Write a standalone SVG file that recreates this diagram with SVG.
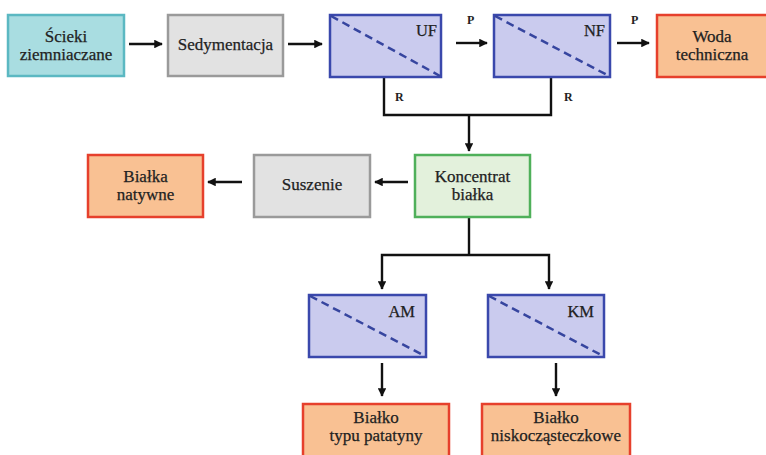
<svg xmlns="http://www.w3.org/2000/svg" width="766" height="455" viewBox="0 0 766 455" font-family="'Liberation Serif', 'DejaVu Serif', serif">
  <defs>
    <marker id="arrow" viewBox="0 0 10 10" refX="9" refY="5" markerWidth="3.6" markerHeight="3.6" orient="auto" markerUnits="strokeWidth">
      <path d="M0,0 L10,5 L0,10 z" fill="#111"/>
    </marker>
  </defs>
  <style>
    text { font-family: 'Liberation Serif', 'DejaVu Serif', serif; fill: #222; }
    .lbl { font-size: 17px; text-anchor: middle; stroke: #222; stroke-width: 0.25; }
    .tag { font-size: 16.5px; text-anchor: end; stroke: #222; stroke-width: 0.25; }
    .pr { font-size: 12px; font-weight: bold; }
    .box { stroke-width: 2.5; }
    .raw { fill: #a9dde1; stroke: #5bb8c2; }
    .proc { fill: #e2e2e2; stroke: #9a9a9a; }
    .memb { fill: #cacbee; stroke: #3a48ac; }
    .prod { fill: #f9c193; stroke: #e6402c; }
    .conc { fill: #e3f1dc; stroke: #4fb05a; }
    .diag { stroke: #36459f; stroke-width: 2.5; stroke-dasharray: 8 5; fill: none; }
    .wire { stroke: #111; stroke-width: 2.4; fill: none; }
    .flow { stroke: #111; stroke-width: 2.4; fill: none; marker-end: url(#arrow); }
  </style>

  <rect width="766" height="455" fill="#ffffff"/>

  <!-- connectors -->
  <g id="connectors">
    <line class="flow" x1="129" y1="44" x2="162" y2="44"/>
    <line class="flow" x1="288" y1="44" x2="322" y2="44"/>
    <line class="flow" x1="456" y1="43" x2="487" y2="43"/>
    <line class="flow" x1="617" y1="43" x2="649" y2="43"/>
    <text class="pr" x="467" y="24">P</text>
    <text class="pr" x="631" y="24">P</text>
    <!-- retentate collection -->
    <polyline class="wire" points="384,78 384,115 551,115 551,78"/>
    <line class="flow" x1="469" y1="115" x2="469" y2="151"/>
    <text class="pr" x="395" y="101">R</text>
    <text class="pr" x="564" y="101">R</text>
    <!-- drying line -->
    <line class="flow" x1="408" y1="182" x2="375" y2="182"/>
    <line class="flow" x1="242" y1="182" x2="208" y2="182"/>
    <!-- split to AM / KM -->
    <polyline class="wire" points="469,218 469,255"/>
    <polyline class="flow" points="469,255 382,255 382,289"/>
    <polyline class="flow" points="469,255 549,255 549,289"/>
    <line class="flow" x1="382" y1="363" x2="382" y2="396"/>
    <line class="flow" x1="556" y1="363" x2="556" y2="396"/>
  </g>

  <g id="scieki">
    <rect class="box raw" x="8" y="15" width="116" height="61"/>
    <text class="lbl" x="66" y="42">Ścieki</text>
    <text class="lbl" x="66" y="60">ziemniaczane</text>
  </g>

  <g id="sedymentacja">
    <rect class="box proc" x="168" y="15" width="115" height="61"/>
    <text class="lbl" x="225.5" y="50">Sedymentacja</text>
  </g>

  <g id="uf">
    <rect class="box memb" x="330" y="15" width="111" height="62"/>
    <line class="diag" x1="331" y1="16" x2="440" y2="76"/>
    <text class="tag" x="437" y="36">UF</text>
  </g>

  <g id="nf">
    <rect class="box memb" x="494" y="15" width="116" height="62"/>
    <line class="diag" x1="495" y1="16" x2="609" y2="76"/>
    <text class="tag" x="605" y="36">NF</text>
  </g>

  <g id="woda">
    <rect class="box prod" x="657" y="15" width="115" height="62"/>
    <text class="lbl" x="712" y="42">Woda</text>
    <text class="lbl" x="712" y="60">techniczna</text>
  </g>

  <g id="koncentrat">
    <rect class="box conc" x="415" y="155" width="115" height="62"/>
    <text class="lbl" x="472.5" y="182">Koncentrat</text>
    <text class="lbl" x="472.5" y="200">białka</text>
  </g>

  <g id="suszenie">
    <rect class="box proc" x="254" y="155" width="116" height="62"/>
    <text class="lbl" x="312" y="190">Suszenie</text>
  </g>

  <g id="bialka-natywne">
    <rect class="box prod" x="88" y="155" width="115" height="62"/>
    <text class="lbl" x="145.5" y="182">Białka</text>
    <text class="lbl" x="145.5" y="200">natywne</text>
  </g>

  <g id="am">
    <rect class="box memb" x="309" y="295" width="117" height="62"/>
    <line class="diag" x1="310" y1="296" x2="425" y2="356"/>
    <text class="tag" x="415" y="317">AM</text>
  </g>

  <g id="km">
    <rect class="box memb" x="488" y="295" width="116" height="62"/>
    <line class="diag" x1="489" y1="296" x2="603" y2="356"/>
    <text class="tag" x="594" y="317">KM</text>
  </g>

  <g id="bialko-patatyna">
    <rect class="box prod" x="303" y="404" width="146" height="60"/>
    <text class="lbl" x="376" y="423">Białko</text>
    <text class="lbl" x="376" y="441">typu patatyny</text>
  </g>

  <g id="bialko-niskoczasteczkowe">
    <rect class="box prod" x="482" y="404" width="148" height="60"/>
    <text class="lbl" x="556" y="423">Białko</text>
    <text class="lbl" x="556" y="441">niskocząsteczkowe</text>
  </g>
</svg>
